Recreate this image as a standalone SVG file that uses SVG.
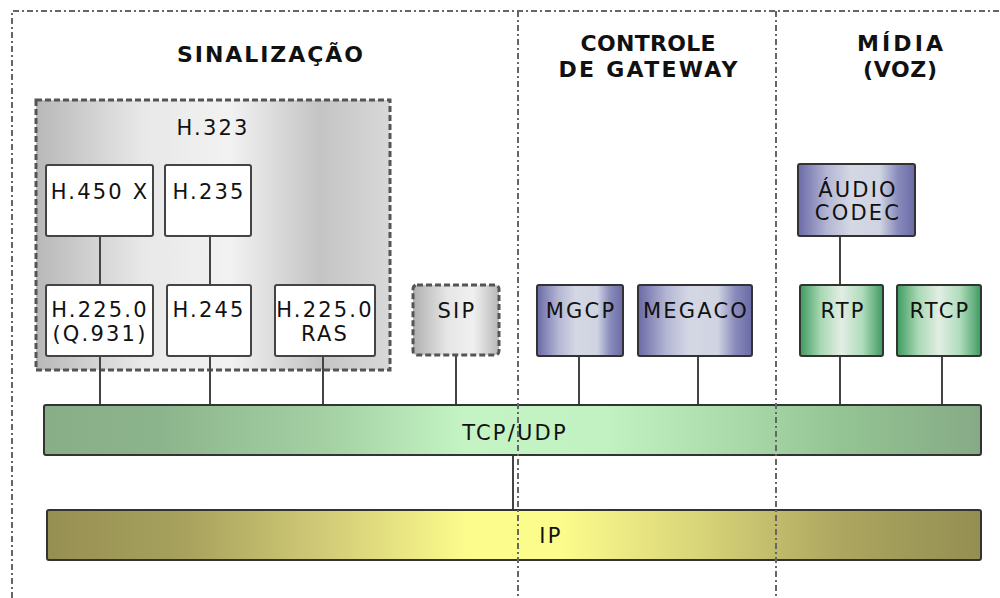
<svg xmlns="http://www.w3.org/2000/svg" width="1000" height="598" viewBox="0 0 1000 598">
<defs>
<linearGradient id="gGray" x1="0" y1="0" x2="1" y2="0">
<stop offset="0" stop-color="#b8b8b8"/><stop offset="0.3" stop-color="#e8e8e8"/><stop offset="0.55" stop-color="#f2f2f2"/><stop offset="0.8" stop-color="#c4c4c4"/><stop offset="1" stop-color="#d8d8d8"/>
</linearGradient>
<linearGradient id="gSip" x1="0" y1="0" x2="1" y2="0">
<stop offset="0" stop-color="#b0b0b0"/><stop offset="0.4" stop-color="#e6e6e6"/><stop offset="0.7" stop-color="#f0f0f0"/><stop offset="1" stop-color="#b8b8b8"/>
</linearGradient>
<linearGradient id="gBlue" x1="0" y1="0" x2="1" y2="0">
<stop offset="0" stop-color="#6a6aa6"/><stop offset="0.25" stop-color="#b4b6d4"/><stop offset="0.45" stop-color="#d4d8e4"/><stop offset="0.7" stop-color="#d0d4e2"/><stop offset="0.85" stop-color="#8a8cbc"/><stop offset="1" stop-color="#6a6aa6"/>
</linearGradient>
<linearGradient id="gGreen" x1="0" y1="0" x2="1" y2="0">
<stop offset="0" stop-color="#3e9a60"/><stop offset="0.25" stop-color="#a8d8b4"/><stop offset="0.5" stop-color="#e2eee4"/><stop offset="0.75" stop-color="#b0dcbc"/><stop offset="1" stop-color="#3e9a60"/>
</linearGradient>
<linearGradient id="gTcp" x1="0" y1="0" x2="1" y2="0">
<stop offset="0" stop-color="#88ae88"/><stop offset="0.12" stop-color="#8cb48c"/><stop offset="0.3" stop-color="#a4d0a4"/><stop offset="0.45" stop-color="#c4f4c4"/><stop offset="0.6" stop-color="#c2f2c2"/><stop offset="0.75" stop-color="#a8d8a8"/><stop offset="0.85" stop-color="#94c494"/><stop offset="1" stop-color="#86aa86"/>
</linearGradient>
<linearGradient id="gIp" x1="0" y1="0" x2="1" y2="0">
<stop offset="0" stop-color="#968f52"/><stop offset="0.15" stop-color="#a8a25e"/><stop offset="0.3" stop-color="#d2cc78"/><stop offset="0.45" stop-color="#fcfc8c"/><stop offset="0.55" stop-color="#fcfc8c"/><stop offset="0.7" stop-color="#d8d478"/><stop offset="0.85" stop-color="#aca660"/><stop offset="1" stop-color="#948e52"/>
</linearGradient>
</defs>
<style>
.box{stroke:#333;stroke-width:2}
.wbox{fill:#fff;stroke:#444;stroke-width:2}
.dash{stroke:#555;stroke-width:3;stroke-dasharray:6 3}
.ln{stroke:#444;stroke-width:2;fill:none}
.div{stroke:#666;stroke-width:2;stroke-dasharray:6 3 2 3;fill:none}
.t{font-family:"DejaVu Sans",Verdana,sans-serif;font-size:21px;fill:#111;letter-spacing:2.2px;text-anchor:middle}
.h{font-family:"DejaVu Sans",Verdana,sans-serif;font-size:22px;font-weight:bold;fill:#111;text-anchor:middle}
</style>
<rect width="1000" height="598" fill="#fff"/>

<g id="titles">
<text class="h" x="270" y="62" textLength="186" lengthAdjust="spacing">SINALIZAÇÃO</text>
<text class="h" x="648" y="51" textLength="135" lengthAdjust="spacing">CONTROLE</text>
<text class="h" x="648" y="77" textLength="179" lengthAdjust="spacing">DE GATEWAY</text>
<text class="h" x="900" y="51" textLength="86" lengthAdjust="spacing">MÍDIA</text>
<text class="h" x="900" y="77" textLength="74" lengthAdjust="spacing">(VOZ)</text>
</g>

<g id="h323">
<rect x="36" y="100" width="354" height="270" fill="url(#gGray)" class="dash"/>
<text class="t" x="213" y="135">H.323</text>
</g>

<g id="connectors">
<path class="ln" d="M100 236V285M210 236V285M100 356V405M210 356V405M323 356V405M456 356V405M579 356V405M698 356V405M840 236V285M840 356V405M942 356V405M513 455V510"/>
</g>

<g id="h450"><rect class="wbox" x="46" y="165" width="107" height="71" rx="2"/><text class="t" x="100" y="199">H.450 X</text></g>
<g id="h235"><rect class="wbox" x="165" y="165" width="86" height="71" rx="2"/><text class="t" x="209" y="199">H.235</text></g>
<g id="h2250q"><rect class="wbox" x="46" y="285" width="107" height="71" rx="2"/><text class="t" x="100" y="317">H.225.0</text><text class="t" x="100" y="341">(Q.931)</text></g>
<g id="h245"><rect class="wbox" x="167" y="285" width="84" height="71" rx="2"/><text class="t" x="209" y="317">H.245</text></g>
<g id="h2250ras"><rect class="wbox" x="275" y="285" width="100" height="71" rx="2"/><text class="t" x="325" y="317">H.225.0</text><text class="t" x="325" y="341">RAS</text></g>

<g id="sip"><rect x="413" y="285" width="86" height="70" rx="4" fill="url(#gSip)" class="dash"/><text class="t" x="457" y="318">SIP</text></g>
<g id="mgcp"><rect class="box" x="537" y="285" width="86" height="71" rx="2" fill="url(#gBlue)"/><text class="t" x="581" y="318">MGCP</text></g>
<g id="megaco"><rect class="box" x="638" y="285" width="114" height="71" rx="2" fill="url(#gBlue)"/><text class="t" x="696" y="318">MEGACO</text></g>
<g id="audio"><rect class="box" x="798" y="164" width="117" height="72" rx="2" fill="url(#gBlue)"/><text class="t" x="858" y="197">ÁUDIO</text><text class="t" x="858" y="220">CODEC</text></g>
<g id="rtp"><rect class="box" x="800" y="285" width="83" height="71" rx="2" fill="url(#gGreen)"/><text class="t" x="843" y="318">RTP</text></g>
<g id="rtcp"><rect class="box" x="897" y="285" width="84" height="71" rx="2" fill="url(#gGreen)"/><text class="t" x="940" y="318">RTCP</text></g>

<g id="tcpudp"><rect class="box" x="44" y="405" width="937" height="50" rx="2" fill="url(#gTcp)"/><text class="t" x="515" y="440">TCP/UDP</text></g>
<g id="ip"><rect class="box" x="47" y="510" width="934" height="50" rx="2" fill="url(#gIp)"/><text class="t" x="551" y="543">IP</text></g>

<g id="dividers">
<path class="div" d="M12 598V11H1000"/>
<path class="div" d="M518 11V598M776 11V598"/>
</g>
</svg>
